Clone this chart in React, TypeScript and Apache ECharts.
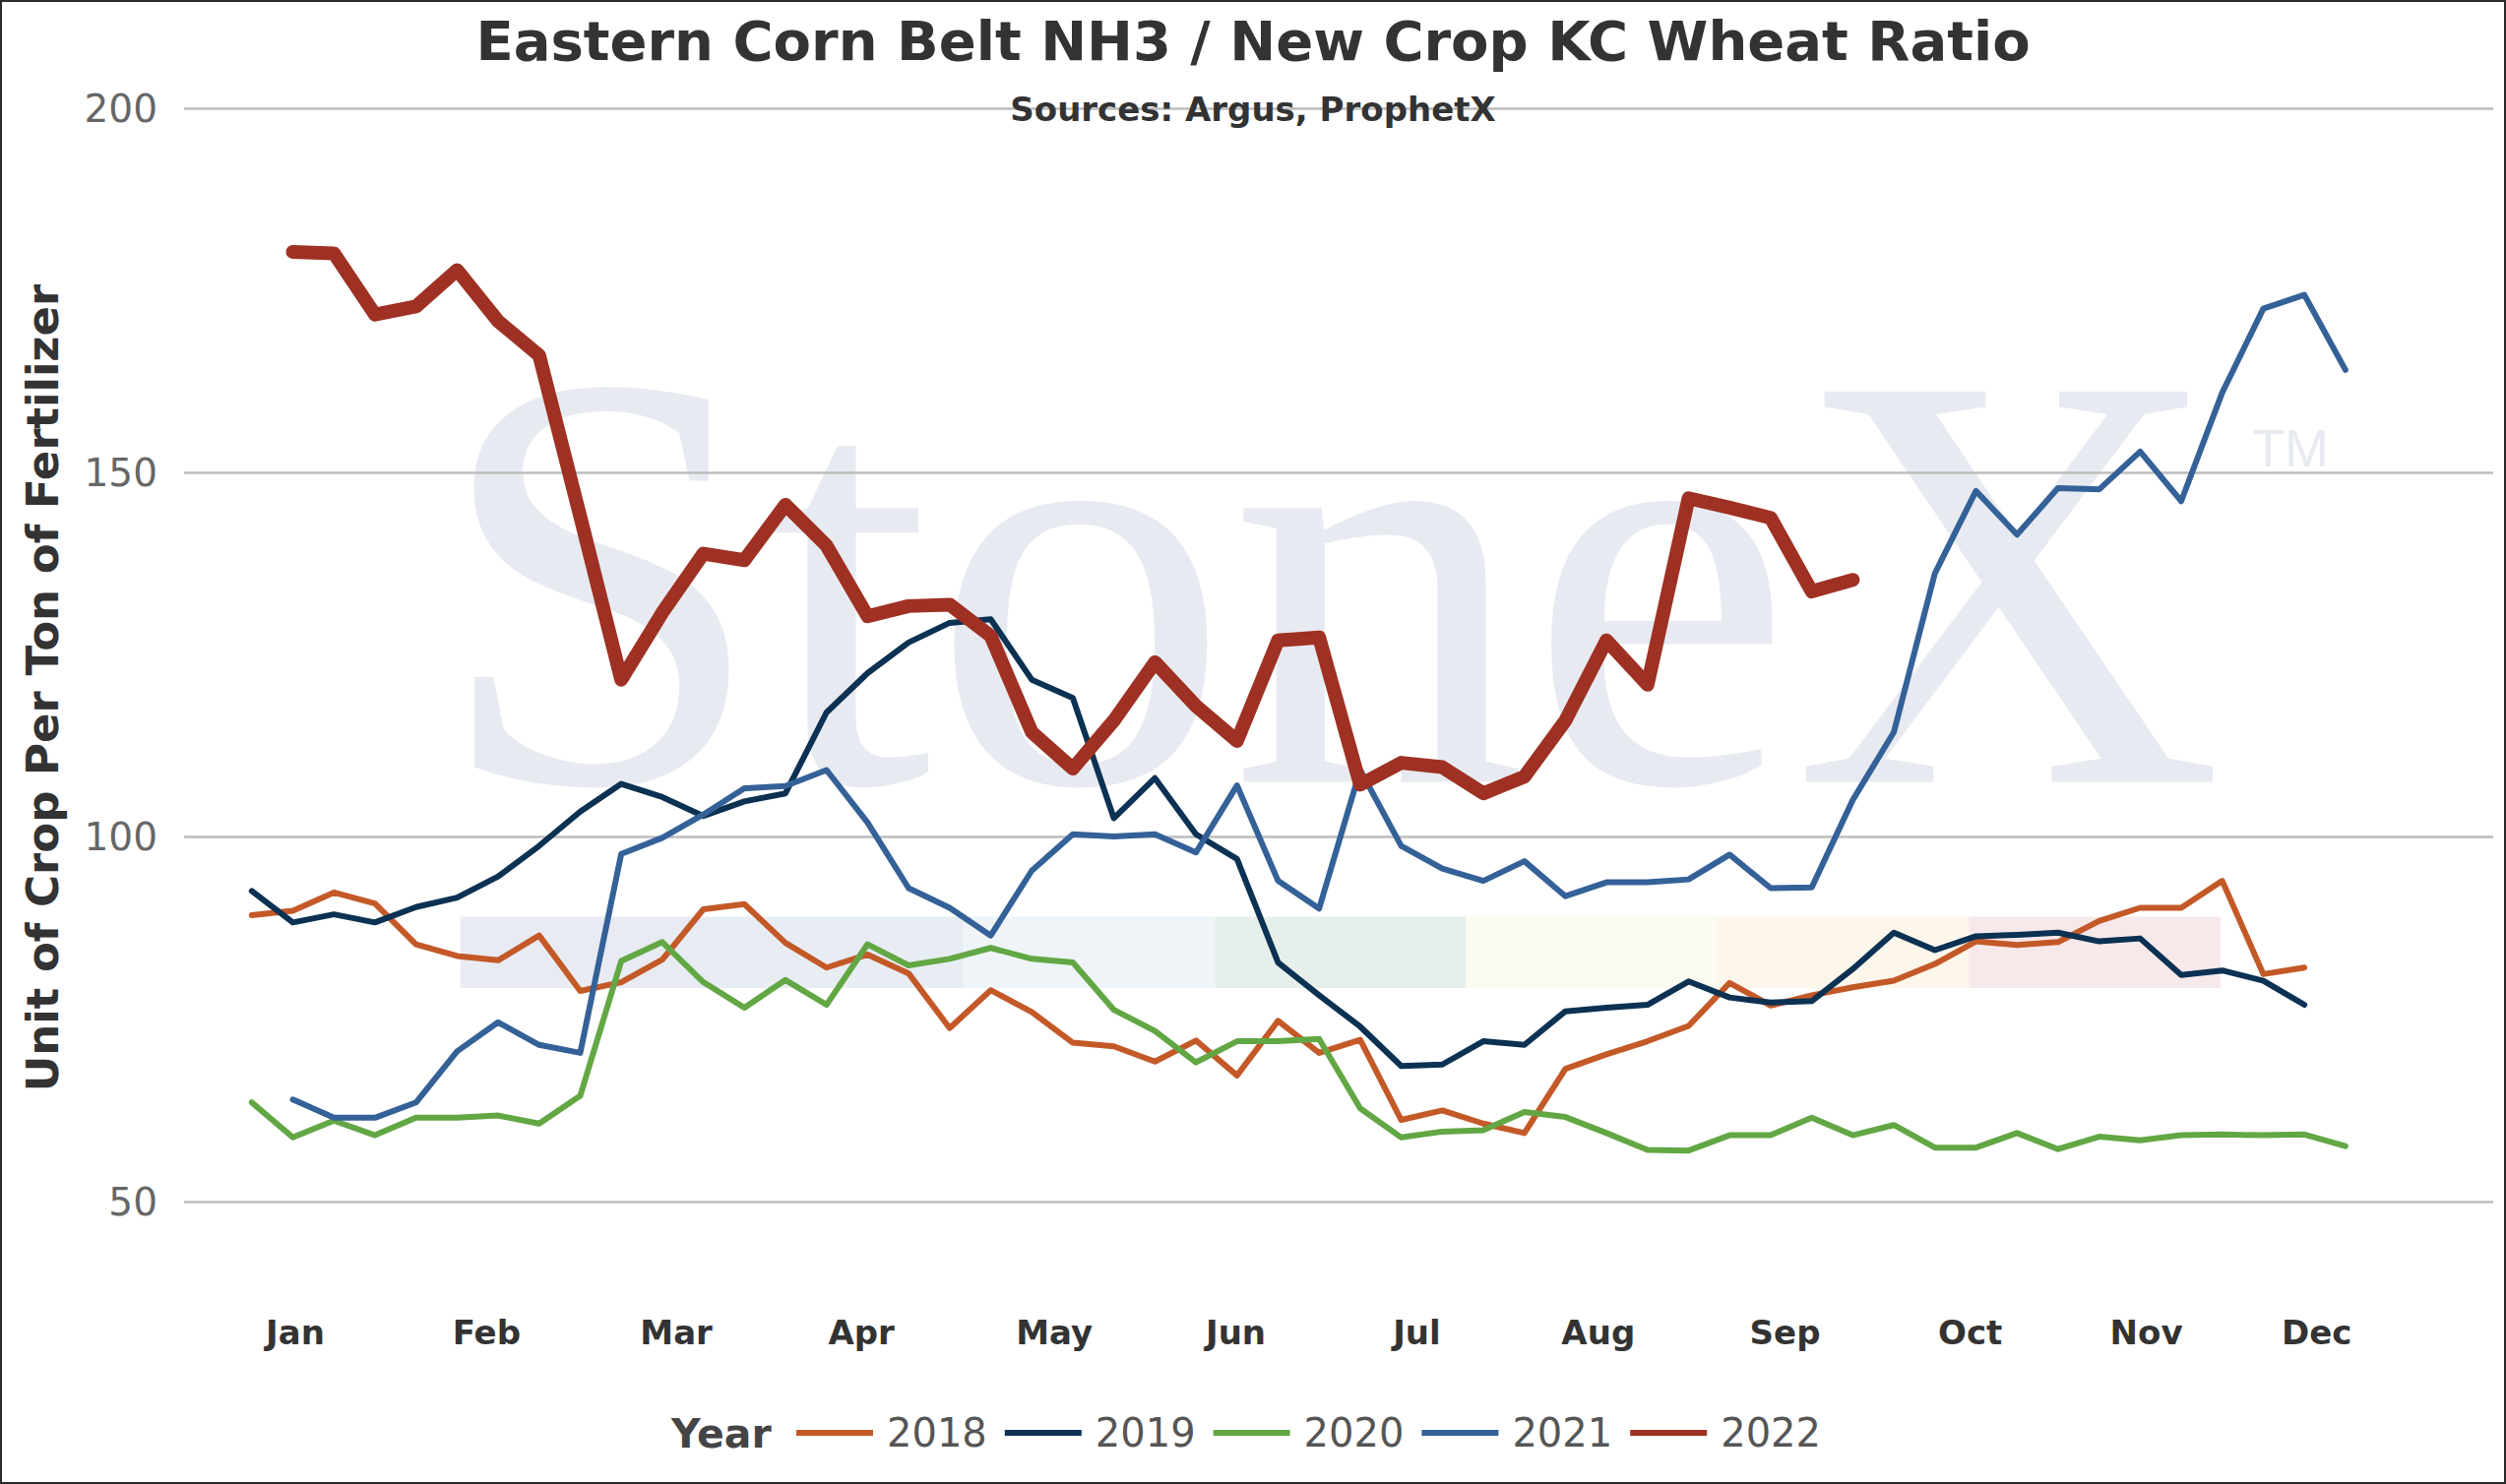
import { useEffect, useRef } from "react";
import * as echarts from "echarts";

// weekly ratio values, 52 weeks per year (null = no print that week)
const years = ["2018", "2019", "2020", "2021", "2022"];

const ratio2018 = [
  89.3, 89.9, 92.4, 90.9, 85.3, 83.7, 83.1, 86.5, 78.9, 80.1, 83.2, 90.1, 90.8,
  85.5, 82.1, 83.9, 81.3, 73.8, 79.0, 76.0, 71.8, 71.3, 69.2, 72.1, 67.3, 74.8,
  70.4, 72.2, 61.2, 62.5, 60.7, 59.4, 68.2, 70.2, 72.0, 74.1, 80.0, 76.9, 78.3,
  79.4, 80.3, 82.6, 85.7, 85.2, 85.6, 88.5, 90.3, 90.3, 94.0, 81.2, 82.1, null,
];
const ratio2019 = [
  92.6, 88.3, 89.4, 88.3, 90.4, 91.7, 94.6, 98.8, 103.5, 107.3, 105.5, 102.9, 104.9,
  106.0, 117.1, 122.5, 126.7, 129.4, 129.9, 121.6, 119.1, 102.6, 108.1, 100.4, 97.0, 82.8,
  78.3, 74.0, 68.6, 68.8, 72.0, 71.5, 76.1, 76.6, 77.0, 80.2, 78.0, 77.3, 77.5,
  81.9, 86.9, 84.5, 86.4, 86.6, 86.9, 85.7, 86.1, 81.1, 81.7, 80.3, 77.0, null,
];
const ratio2020 = [
  63.6, 58.8, 61.1, 59.1, 61.5, 61.5, 61.8, 60.7, 64.5, 83.0, 85.6, 80.1, 76.6,
  80.4, 77.0, 85.3, 82.4, 83.3, 84.8, 83.3, 82.8, 76.3, 73.4, 69.1, 72.0, 72.0,
  72.3, 62.8, 58.8, 59.6, 59.8, 62.3, 61.6, 59.4, 57.1, 57.0, 59.1, 59.1, 61.5,
  59.1, 60.5, 57.4, 57.4, 59.4, 57.2, 58.9, 58.4, 59.1, 59.2, 59.1, 59.2, 57.6,
];
const ratio2021 = [
  null, 64.0, 61.5, 61.5, 63.6, 70.6, 74.6, 71.5, 70.4, 97.7, 99.9, 103.1, 106.7,
  107.0, 109.2, 102.0, 93.0, 90.3, 86.5, 95.4, 100.4, 100.1, 100.4, 97.9, 107.1, 94.0,
  90.2, 109.2, 98.8, 95.7, 94.0, 96.7, 91.9, 93.8, 93.8, 94.2, 97.6, 93.0, 93.1,
  105.1, 114.4, 136.2, 147.5, 141.5, 147.9, 147.7, 152.9, 146.1, 161.0, 172.5, 174.4, 164.1,
];
const ratio2022 = [
  null, 180.3, 180.1, 171.7, 172.8, 177.8, 170.8, 166.1, 144.0, 121.6, 130.8, 138.9, 138.0,
  145.6, 140.0, 130.3, 131.7, 131.9, 127.6, 114.4, 109.4, 116.0, 124.0, 118.0, 113.2, 127.0,
  127.4, 107.2, 110.2, 109.6, 106.0, 108.3, 116.0, 127.0, 120.9, 146.5, 145.2, 143.8, 133.7,
  135.3,
];

const seriesValues = [ratio2018, ratio2019, ratio2020, ratio2021, ratio2022];
const seriesColors = ["#c45928", "#0b3153", "#62a744", "#346198", "#9e3123"];

// month labels and where they sit on the week axis
const monthLabels = ["Jan", "Feb", "Mar", "Apr", "May", "Jun", "Jul", "Aug", "Sep", "Oct", "Nov", "Dec"];
const monthTickWeeks = [1.06, 5.72, 10.34, 14.85, 19.55, 23.97, 28.38, 32.8, 37.35, 41.86, 46.15, 50.3];

const yTicks = { min: 50, max: 200, step: 50 };

// faint coloured strip behind the lines (part of the watermark)
const bandEdges = [5.08, 11.2, 17.35, 23.46, 29.58, 35.71, 41.83, 47.96];
const bandColors = ["#e8ebf1", "#e8edf4", "#eef4f8", "#e6efea", "#fafaf0", "#fdf6ea", "#f7e9ea"];
const bandRange = [79.3, 89.1];

const FONT = "'DejaVu Sans', Verdana, sans-serif";

export default function App() {
  const ref = useRef<HTMLDivElement>(null);

  useEffect(() => {
    if (!ref.current) return;
    const chart = echarts.init(ref.current, undefined, { renderer: "svg" });

    const bands = bandColors.map((c, k) => [
      { xAxis: bandEdges[k], yAxis: bandRange[0], itemStyle: { color: c } },
      { xAxis: bandEdges[k + 1], yAxis: bandRange[1] },
    ]);

    const series = years.map((name, s) => ({
      name,
      type: "line" as const,
      symbol: "none",
      color: seriesColors[s],
      lineStyle: {
        color: seriesColors[s],
        width: name === "2022" ? 14 : 6,
        cap: "round",
        join: "round",
      },
      data: seriesValues[s]
        .map((v, i) => [i, v])
        .filter((p) => p[1] !== null),
      markArea:
        s === 0
          ? { silent: true, z: 1, itemStyle: { opacity: 1 }, data: bands }
          : undefined,
    }));

    chart.setOption({
      animation: false,
      backgroundColor: "#fff",
      title: [
        {
          text: "Eastern Corn Belt NH3 / New Crop KC Wheat Ratio",
          left: "center",
          top: 11,
          padding: 0,
          textStyle: { fontFamily: FONT, fontSize: 56, fontWeight: "bold", color: "#333" },
        },
        {
          text: "Sources: Argus, ProphetX",
          left: "center",
          top: 92,
          padding: 0,
          textStyle: { fontFamily: FONT, fontSize: 34, fontWeight: "bold", color: "#333" },
        },
      ],
      grid: { left: 185, right: 11, top: 108, bottom: 285, outerBoundsMode: "none" },
      legend: {
        data: years,
        icon: "rect",
        itemWidth: 78,
        itemHeight: 6,
        itemGap: 18,
        left: 807,
        top: 1434,
        padding: 0,
        textStyle: { fontFamily: FONT, fontSize: 40, color: "#555", padding: [0, 0, 0, 9] },
      },
      xAxis: {
        type: "value",
        min: -1.65,
        max: 54.6,
        axisLine: { show: false },
        axisTick: { show: false },
        splitLine: { show: false },
        axisLabel: {
          customValues: monthTickWeeks,
          margin: 116,
          fontFamily: FONT,
          fontSize: 34,
          fontWeight: "bold",
          color: "#333",
          formatter: (v: number) => {
            const k = monthTickWeeks.findIndex((p) => Math.abs(p - v) < 0.01);
            return k >= 0 ? monthLabels[k] : "";
          },
        },
      },
      yAxis: {
        type: "value",
        min: yTicks.min,
        max: yTicks.max,
        interval: yTicks.step,
        axisLine: { show: false },
        axisTick: { show: false },
        axisLabel: { margin: 27, fontFamily: FONT, fontSize: 39, color: "#666" },
        splitLine: { lineStyle: { color: "#bdbdbd", width: 2.5 } },
      },
      graphic: [
        {
          type: "text",
          x: 439,
          y: 588,
          z: -1,
          silent: true,
          style: {
            text: "StoneX",
            fill: "#e7eaf0",
            fontFamily: "'Liberation Serif', 'DejaVu Serif', serif",
            fontSize: 606,
            textAlign: "left",
            textVerticalAlign: "middle",
          },
        },
        {
          type: "text",
          x: 2286,
          y: 453,
          z: -1,
          silent: true,
          style: {
            text: "TM",
            fill: "#e7eaf0",
            fontFamily: "'Liberation Sans', sans-serif",
            fontSize: 54,
            textAlign: "left",
            textVerticalAlign: "middle",
          },
        },
        {
          type: "text",
          x: 41,
          y: 697,
          rotation: Math.PI / 2,
          style: {
            text: "Unit of Crop Per Ton of Fertilizer",
            fill: "#333",
            fontFamily: FONT,
            fontSize: 45,
            fontWeight: "bold",
            textAlign: "center",
            textVerticalAlign: "middle",
          },
        },
        {
          type: "text",
          x: 680,
          y: 1455,
          style: {
            text: "Year",
            fill: "#444",
            fontFamily: FONT,
            fontSize: 41,
            fontWeight: "bold",
            textAlign: "left",
            textVerticalAlign: "middle",
          },
        },
      ],
      series,
    } as any);

    return () => {
      chart.dispose();
    };
  }, []);

  return (
    <div
      style={{
        position: "fixed",
        left: 0,
        top: 0,
        width: 2546,
        height: 1508,
        boxSizing: "border-box",
        border: "2px solid #2b2b2b",
        background: "#fff",
      }}
    >
      <div ref={ref} style={{ width: "100%", height: "100%" }} />
    </div>
  );
}
